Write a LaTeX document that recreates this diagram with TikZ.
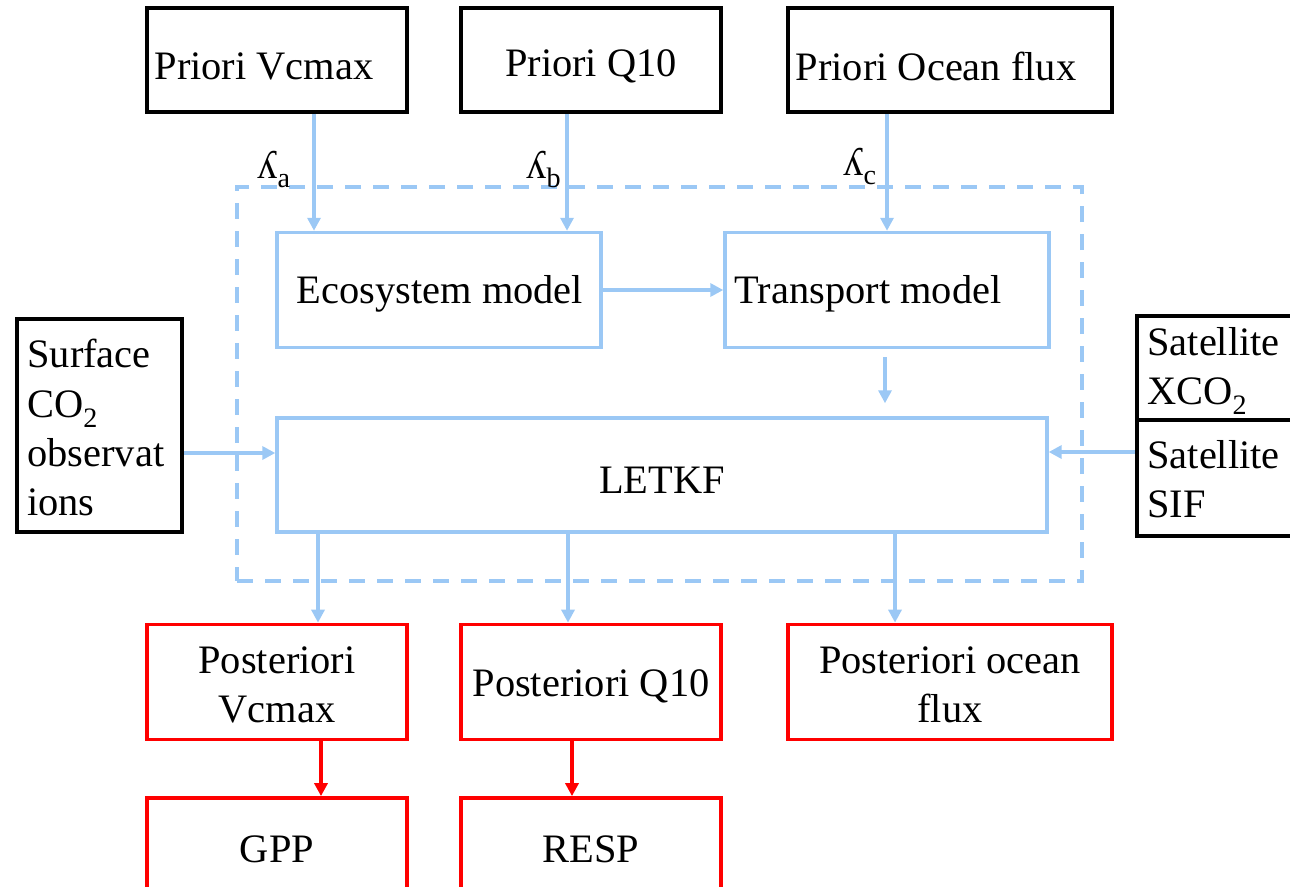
\documentclass[tikz,border=0pt]{standalone}
\usepackage{fontspec}
\setmainfont{Liberation Serif}
\usetikzlibrary{arrows.meta}
\definecolor{lblue}{RGB}{155,200,245}
\definecolor{bred}{RGB}{255,0,0}
\newcommand\lsub[1]{\raisebox{-0.5ex}{\fontsize{16}{16}\selectfont #1}}
\newcommand\csub[1]{\raisebox{-0.55ex}{\fontsize{16}{16}\selectfont #1}}
\begin{document}
\begin{tikzpicture}[x=0.02cm,y=-0.02cm,
  font=\fontsize{23}{28}\selectfont,
  sz/.style 2 args={minimum width=#1, minimum height=#2},
  blk/.style={draw=black, line width=0.08cm, inner sep=0pt},
  bl/.style={draw=lblue, line width=0.07cm, inner sep=0pt},
  rd/.style={draw=bred, line width=0.075cm, inner sep=0pt},
  dashbox/.style={draw=lblue, line width=0.07cm, dash pattern=on 0.32cm off 0.24cm, inner sep=0pt},
  txt/.style={inner sep=0pt},
  barrow/.style={draw=lblue, line width=0.075cm, -{Triangle[width=0.26cm,length=0.26cm]}},
  rarrow/.style={draw=bred, line width=0.075cm, -{Triangle[width=0.26cm,length=0.26cm]}}]
\useasboundingbox (0,0) rectangle (1290,886);
\clip (0,0) rectangle (1290,886);

% priors
\node[blk, sz={5.2cm}{2.08cm}] (pv) at (277,60) {};
\node[txt] (pvt) at (264,66) {Priori Vcmax};
\node[blk, sz={5.2cm}{2.08cm}] (pq) at (591,60) {};
\node[txt] (pqt) at (591,66) {Priori Q10};
\node[blk, sz={6.48cm}{2.08cm}] (po) at (950,60) {};
\node[txt] (pot) at (936,66) {Priori Ocean flux};

% dashed frame
\node[dashbox, sz={16.9cm}{7.88cm}] (dash) at (659.5,384) {};

% models
\node[bl, sz={6.48cm}{2.3cm}] (eco) at (439,290) {};
\node[txt] (ecot) at (440,294) {Ecosystem model};
\node[bl, sz={6.48cm}{2.3cm}] (tra) at (887,290) {};
\node[txt] (trat) at (868,294) {Transport model};
\node[bl, sz={15.4cm}{2.28cm}] (letkf) at (662,475) {};
\node[txt] (letkft) at (662,480) {LETKF};

% observations
\node[blk, sz={3.3cm}{4.26cm}] (surf) at (99.5,425.5) {};
\node[txt, anchor=north west, align=left] (surft) at (27,339) {Surface\\CO\csub{2}\\observat\\ions};
\node[blk, sz={3.46cm}{2.08cm}] (sx) at (1223,368) {};
\node[txt, anchor=north west, align=left] (sxt) at (1147,327) {Satellite\\XCO\csub{2}};
\node[blk, sz={3.46cm}{2.32cm}] (ss) at (1223,478) {};
\node[txt, anchor=north west, align=left] (sst) at (1147,440) {Satellite\\SIF};

% posteriors
\node[rd, sz={5.2cm}{2.3cm}] (postv) at (277,682) {};
\node[txt, align=center] (postvt) at (277,685) {Posteriori\\Vcmax};
\node[rd, sz={5.2cm}{2.3cm}] (postq) at (591,682) {};
\node[txt] (postqt) at (591,686) {Posteriori Q10};
\node[rd, sz={6.48cm}{2.3cm}] (posto) at (950,682) {};
\node[txt, align=center] (postot) at (950,685) {Posteriori ocean\\flux};
\node[rd, sz={5.2cm}{2.04cm}] (gpp) at (277,849) {GPP};
\node[rd, sz={5.2cm}{2.04cm}] (resp) at (591,849) {RESP};

% lambda labels
\node[txt, anchor=base west] (la) at (257,178) {ʎ\lsub{a}};
\node[txt, anchor=base west] (lb) at (526,178) {ʎ\lsub{b}};
\node[txt, anchor=base west] (lc) at (843,175) {ʎ\lsub{c}};

% connector columns / rows
\coordinate (xa) at (314,0);
\coordinate (xb) at (567,0);
\coordinate (xc) at (887,0);
\coordinate (xt) at (885,0);
\coordinate (xd) at (318,0);
\coordinate (xe) at (568,0);
\coordinate (xf) at (895,0);
\coordinate (xg) at (321,0);
\coordinate (xh) at (572,0);
\coordinate (ya) at (0,453);
\coordinate (yb) at (0,452);

\draw[barrow] (pv.south -| xa) -- (eco.north -| xa);
\draw[barrow] (pq.south -| xb) -- (eco.north -| xb);
\draw[barrow] (po.south -| xc) -- (tra.north -| xc);
\draw[barrow] (eco) -- (tra);
\draw[barrow, shorten <=0.16cm, shorten >=0.26cm] (tra.south -| xt) -- (letkf.north -| xt);
\draw[barrow] (surf.east |- ya) -- (letkf.west |- ya);
\draw[barrow] (ss.west |- yb) -- (letkf.east |- yb);
\draw[barrow] (letkf.south -| xd) -- (postv.north -| xd);
\draw[barrow] (letkf.south -| xe) -- (postq.north -| xe);
\draw[barrow] (letkf.south -| xf) -- (posto.north -| xf);
\draw[rarrow] (postv.south -| xg) -- (gpp.north -| xg);
\draw[rarrow] (postq.south -| xh) -- (resp.north -| xh);
\end{tikzpicture}
\end{document}
